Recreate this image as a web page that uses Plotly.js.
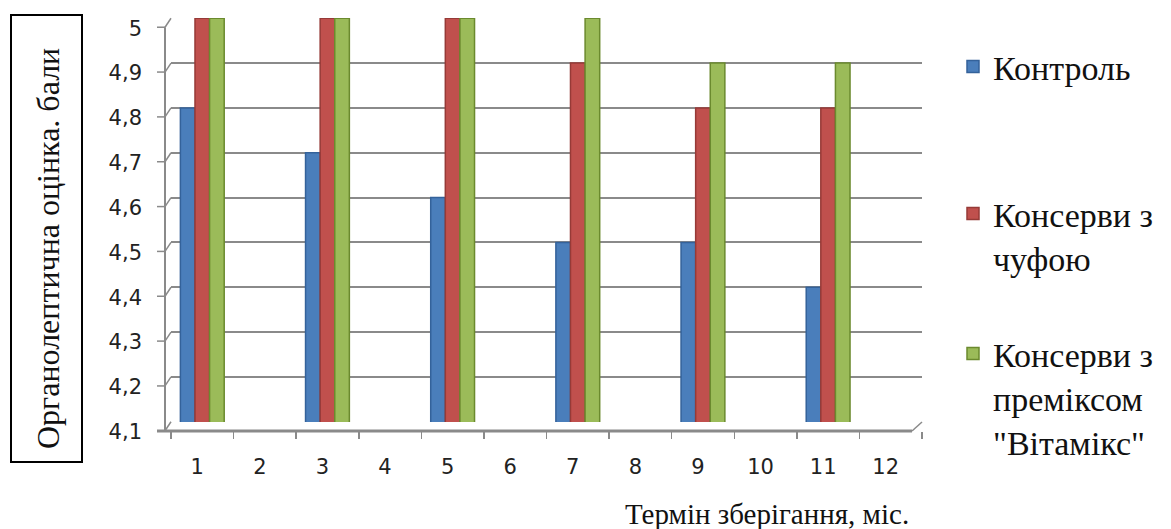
<!DOCTYPE html>
<html>
<head>
<meta charset="utf-8">
<script src="https://cdn.plot.ly/plotly-3.0.1.min.js"></script>
<style>
  html, body { margin: 0; padding: 0; background: #ffffff; }
  #chart { width: 1171px; height: 529px; }
</style>
</head>
<body>
<div id="chart"></div>
<script>
// Storage term, months
const months = ['1', '2', '3', '4', '5', '6', '7', '8', '9', '10', '11', '12'];
const measuredMonths = ['1', '3', '5', '7', '9', '11'];

// Organoleptic score, points
const controlScores = [4.8, 4.7, 4.6, 4.5, 4.5, 4.4];
const chufaScores = [5.0, 5.0, 5.0, 4.9, 4.8, 4.8];
const premixScores = [5.0, 5.0, 5.0, 5.0, 4.9, 4.9];

const seriesNames = ['Контроль', 'Консерви з<br>чуфою', 'Консерви з<br>преміксом<br>"Вітамікс"'];
const yTicks = [4.1, 4.2, 4.3, 4.4, 4.5, 4.6, 4.7, 4.8, 4.9, 5];
const yTickText = ['4,1', '4,2', '4,3', '4,4', '4,5', '4,6', '4,7', '4,8', '4,9', '5'];

const W = 1171, H = 529;
const M = { l: 171, r: 249, t: 18, b: 98 };
const plotW = W - M.l - M.r;
const plotH = H - M.t - M.b;
const depth = 9;                     // px offset between back wall and front edge
const yDom0 = depth / plotH;
const yMin = 4.0995, yMax = 5.0005;

// pixel helpers for paper coordinates
const px = x => (x - M.l) / plotW;
const py = y => (H - M.b - y) / plotH;
const yBackPaper = v => yDom0 + (v - yMin) / (yMax - yMin) * (1 - yDom0);

const serif = 'Liberation Serif, Times New Roman, serif';
const sans = 'DejaVu Sans, sans-serif';
const gridCol = '#8a8a8a';

function barTrace(name, values, color, edge, legendId) {
  return {
    type: 'bar',
    name: name,
    x: measuredMonths,
    y: values,
    legend: legendId,
    marker: { color: color, line: { color: edge, width: 1.5 } },
    hoverinfo: 'x+y+name'
  };
}

const data = [
  barTrace(seriesNames[0], controlScores, '#4a7ebb', '#34629a', 'legend'),
  barTrace(seriesNames[1], chufaScores, '#c0504d', '#963a37', 'legend2'),
  barTrace(seriesNames[2], premixScores, '#9bbb59', '#6b8a2e', 'legend3')
];

// Left side wall of the 3D frame, floor front edge and the connectors
const shapes = [];
const line = { color: gridCol, width: 2 };
shapes.push({ type: 'line', xref: 'paper', yref: 'paper', x0: px(165), x1: px(165),
  y0: 0, y1: yBackPaper(5) - yDom0, line: line });
yTicks.forEach(v => {
  const yb = yBackPaper(v), yf = yb - yDom0;
  shapes.push({ type: 'line', xref: 'paper', yref: 'paper', x0: px(165), x1: 0,
    y0: yf, y1: yb, line: { color: gridCol, width: 1.5 } });
  shapes.push({ type: 'line', xref: 'paper', yref: 'paper', x0: px(157), x1: px(165),
    y0: yf, y1: yf, line: { color: gridCol, width: 1.5 } });
});
shapes.push({ type: 'line', xref: 'paper', yref: 'paper', x0: px(157), x1: px(912),
  y0: 0, y1: 0, line: { color: gridCol, width: 3 } });
shapes.push({ type: 'line', xref: 'paper', yref: 'paper', x0: px(912), x1: 1,
  y0: 0, y1: yDom0, line: { color: gridCol, width: 1.5 } });
// frame around the y-axis title
shapes.push({ type: 'rect', xref: 'paper', yref: 'paper', x0: px(11), x1: px(82),
  y0: py(462), y1: py(15), line: { color: '#000000', width: 2 } });

const legendBase = {
  xref: 'container', yref: 'container', x: 953 / W, yanchor: 'top', xanchor: 'left',
  bgcolor: 'rgba(0,0,0,0)', font: { family: serif, size: 34, color: '#111111' },
  valign: 'top', itemwidth: 30, tracegroupgap: 0
};

const layout = {
  width: W, height: H,
  margin: M,
  paper_bgcolor: '#ffffff',
  plot_bgcolor: '#ffffff',
  separators: ', ',
  barmode: 'group',
  bargap: 0.3,
  bargroupgap: 0,
  showlegend: true,
  legend: Object.assign({}, legendBase, { y: 1 - 38 / H }),
  legend2: Object.assign({}, legendBase, { y: 1 - 185 / H }),
  legend3: Object.assign({}, legendBase, { y: 1 - 325 / H }),
  xaxis: {
    type: 'category',
    categoryorder: 'array',
    categoryarray: months,
    tickvals: months,
    range: [-0.5, 11.5],
    anchor: 'free',
    position: 0,
    showline: false,
    showgrid: false,
    ticks: 'outside',
    tickson: 'boundaries',
    ticklen: 7,
    tickwidth: 1.5,
    tickcolor: gridCol,
    ticklabelshift: -5,
    ticklabelstandoff: 21,
    tickfont: { family: sans, size: 21, color: '#222222' },
    fixedrange: true
  },
  yaxis: {
    domain: [yDom0, 1],
    range: [yMin, yMax],
    tickvals: yTicks,
    ticktext: yTickText,
    showgrid: true,
    gridcolor: gridCol,
    gridwidth: 2,
    zeroline: false,
    showline: false,
    ticks: '',
    ticklabelshift: 10,
    ticklabelstandoff: 28,
    tickfont: { family: sans, size: 21, color: '#222222' },
    fixedrange: true
  },
  annotations: [
    {
      // y-axis title inside its frame
      text: 'Органолептична оцінка. бали',
      xref: 'paper', yref: 'paper',
      x: px(48), y: py(249),
      xanchor: 'center', yanchor: 'middle',
      textangle: -90,
      showarrow: false,
      font: { family: serif, size: 32, color: '#111111' }
    },
    {
      // x-axis title
      text: 'Термін зберігання, міс.',
      xref: 'paper', yref: 'paper',
      x: px(767), y: py(514),
      xanchor: 'center', yanchor: 'middle',
      showarrow: false,
      font: { family: serif, size: 29, color: '#111111' }
    }
  ],
  shapes: shapes
};

Plotly.newPlot('chart', data, layout, { displayModeBar: false, staticPlot: true });
</script>
</body>
</html>
